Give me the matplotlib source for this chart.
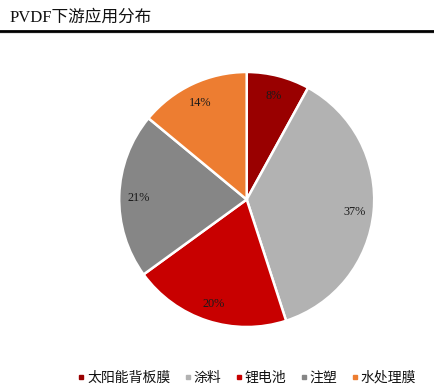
#!/usr/bin/env python3
"""PVDF downstream application split, drawn as a pie."""

import matplotlib

matplotlib.use("Agg")
import matplotlib.pyplot as plt
from matplotlib.lines import Line2D

CATEGORIES = ["太阳能背板膜", "涂料", "锂电池", "注塑", "水处理膜"]
SHARES = [8, 37, 20, 21, 14]
COLORS = ["#990000", "#B2B2B2", "#C80000", "#868686", "#ED7D31"]
TITLE = "PVDF下游应用分布"

W, H = 435, 392

plt.rcParams["font.family"] = ["Liberation Serif", "Noto Sans CJK SC", "DejaVu Sans"]

fig = plt.figure(figsize=(W / 100, H / 100), dpi=100, facecolor="white")

# pie axes: centre (246.7, 199.5), radius 127.5 in pixels
R = 127.5
ax = fig.add_axes([(246.7 - R) / W, 1 - (199.5 + R) / H, 2 * R / W, 2 * R / H])
wedges, _, pcts = ax.pie(
    SHARES,
    colors=COLORS,
    startangle=90,
    counterclock=False,
    radius=1.0,
    autopct="%d%%",
    pctdistance=0.85,
    wedgeprops={"edgecolor": "white", "linewidth": 1.8},
    textprops={"fontsize": 8.8, "color": "#1a1a1a"},
)
for t in pcts:
    x, y = t.get_position()
    t.set_position((x, y - 0.015))
ax.set_xlim(-1, 1)
ax.set_ylim(-1, 1)

# header and rule
fig.text(10 / W, 1 - 17.5 / H, TITLE, fontsize=12, color="#111111", va="center", ha="left")
fig.add_artist(Line2D([0, 1], [1 - 32.5 / H] * 2, color="#E4E4E4", lw=1.4))
fig.add_artist(Line2D([0, 1], [1 - 30.5 / H] * 2, color="black", lw=2.0))

# the faint watermark at the bottom left is too blurred to read, so it is left out
handles = [Line2D([], [], ls="", marker="s", ms=3.0, color=c) for c in COLORS]
fig.legend(
    handles,
    CATEGORIES,
    loc="center left",
    bbox_to_anchor=(79 / W, 1 - 378 / H),
    ncols=5,
    frameon=False,
    fontsize=10,
    handlelength=0.3,
    handletextpad=0.28,
    columnspacing=1.1,
    borderpad=0,
    borderaxespad=0,
    labelcolor="#111111",
)

fig.savefig("out.png", dpi=100)
